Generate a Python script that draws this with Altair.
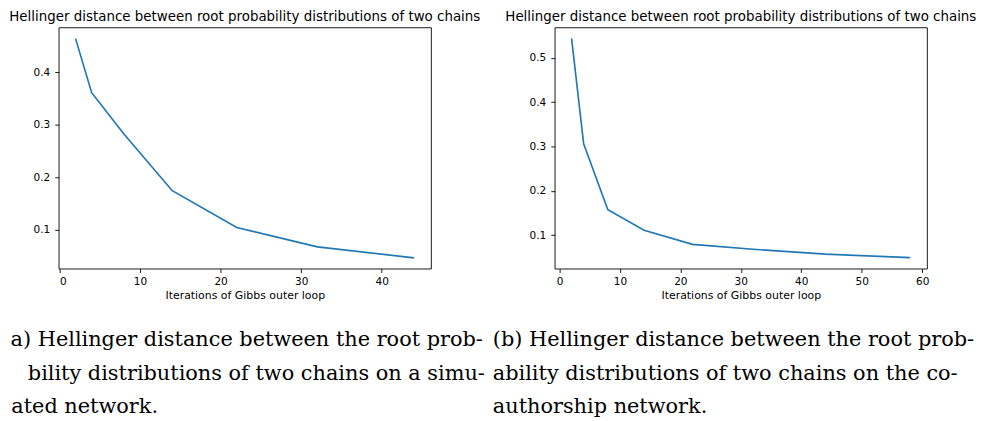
import altair as alt
import pandas as pd

# ---- data ----
iters_a = [2, 4, 8, 14, 22, 32, 44]
hell_a = [0.464, 0.361, 0.282, 0.174, 0.104, 0.067, 0.046]

iters_b = [2, 4, 8, 14, 22, 32, 44, 58]
hell_b = [0.544, 0.306, 0.157, 0.111, 0.079, 0.068, 0.057, 0.049]

xticks_a = [0, 10, 20, 30, 40]
yticks_a = [0.1, 0.2, 0.3, 0.4]
xticks_b = [0, 10, 20, 30, 40, 50, 60]
yticks_b = [0.1, 0.2, 0.3, 0.4, 0.5]

panel_title = "Hellinger distance between root probability distributions of two chains"
x_title = "Iterations of Gibbs outer loop"

caption_a = [
    "a) Hellinger distance between the root prob-",
    "bility distributions of two chains on a simu-",
    "ated network.",
]
caption_b = [
    "(b) Hellinger distance between the root prob-",
    "ability distributions of two chains on the co-",
    "authorship network.",
]

W, H = 375, 243
BLUE = "#1f77b4"
SANS = "DejaVu Sans"
SERIF = "DejaVu Serif"
CAP_SIZE = 21
CAP_Y = [321.4, 354.7, 388.0]


def text_layer(txt, x, y, align, font, size):
    return alt.Chart(pd.DataFrame({"t": [txt]})).mark_text(
        font=font, fontSize=size, align=align, baseline="alphabetic", color="black"
    ).encode(text="t:N", x=alt.value(x), y=alt.value(y))


def panel(xs, ys, xdom, ydom, xt, yt, caption, cap_x, cap_align):
    df = pd.DataFrame({"x": xs, "y": ys})
    line = alt.Chart(df).mark_line(color=BLUE, strokeWidth=1.65).encode(
        x=alt.X("x:Q", scale=alt.Scale(domain=xdom, nice=False, zero=False),
                axis=alt.Axis(values=xt, format="d", title=x_title, labelPadding=3.7)),
        y=alt.Y("y:Q", scale=alt.Scale(domain=ydom, nice=False, zero=False),
                axis=alt.Axis(values=yt, format=".1f", title=None, labelPadding=5.0)),
    )
    layers = [line, text_layer(panel_title, W / 2, -6.4, "center", SANS, 13.5)]
    for i, ln in enumerate(caption):
        layers.append(text_layer(ln, cap_x[i], CAP_Y[i], cap_align[i], SERIF, CAP_SIZE))
    return alt.layer(*layers).properties(width=W, height=H)


left = panel(iters_a, hell_a, [-0.1, 46.1], [0.0255, 0.4855], xticks_a, yticks_a,
             caption_a, [427.3, 429.3, -47.7], ["right", "right", "left"])
right = panel(iters_b, hell_b, [-0.8, 60.8], [0.0243, 0.5687], xticks_b, yticks_b,
              caption_b, [-62.3, -62.3, -62.3], ["left", "left", "left"])

chart = alt.hconcat(left, right, spacing=124.6, bounds="flush").properties(
    padding={"left": 0, "top": 0, "right": 0, "bottom": 0}
).configure_view(
    stroke="black", strokeWidth=0.9
).configure_axis(
    domain=False, grid=False,
    labelFont=SANS, labelFontSize=10.6, labelColor="black",
    tickColor="black", tickSize=3.9, tickWidth=0.9,
    titleFont=SANS, titleFontSize=11.0, titleFontWeight="normal", titleColor="black",
).configure_axisX(
    titleY=29.8, titleBaseline="alphabetic"
)

chart.save("out.html", embed_options={"renderer": "svg", "actions": False})
